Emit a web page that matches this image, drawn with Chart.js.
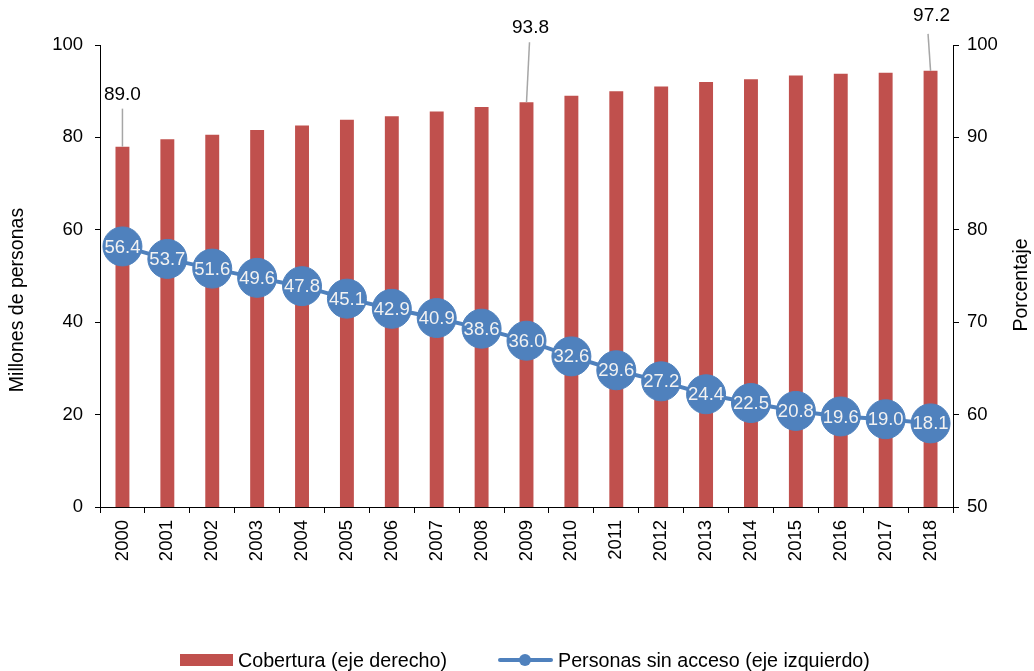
<!DOCTYPE html>
<html>
<head>
<meta charset="utf-8">
<script src="https://cdn.jsdelivr.net/npm/chart.js@4.4.1/dist/chart.umd.min.js"></script>
<style>
  body { margin: 0; background: #fff; font-family: "Liberation Sans", Arial, sans-serif; }
  #wrap { position: relative; width: 1034px; height: 671px; }
  #legend { position: absolute; left: 0; top: 649px; width: 1034px; font-size: 19.7px; color: #000; }
  .item { position: absolute; top: 0; display: flex; align-items: center; height: 22px; }
  .swatch-bar { width: 53px; height: 12px; background: #C0504D; margin-right: 5px; }
  .swatch-line { position: relative; width: 55px; height: 22px; margin-right: 5px; }
  .swatch-line:before { content: ''; position: absolute; left: 0; right: 0; top: 9px; height: 4px; background: #4F81BD; border-radius: 2px; }
  .swatch-line:after { content: ''; position: absolute; left: 21px; top: 5px; width: 12px; height: 12px; border-radius: 50%; background: #4F81BD; }
</style>
</head>
<body>
<div id="wrap">
  <canvas id="chart" width="1034" height="671"></canvas>
  <div id="legend">
    <div class="item" style="left:180px"><span class="swatch-bar"></span>Cobertura (eje derecho)</div>
    <div class="item" style="left:498px"><span class="swatch-line"></span>Personas sin acceso (eje izquierdo)</div>
  </div>
</div>
<script>
const years = ['2000', '2001', '2002', '2003', '2004', '2005', '2006', '2007', '2008', '2009',
               '2010', '2011', '2012', '2013', '2014', '2015', '2016', '2017', '2018'];
// Cobertura (%), right axis
const cobertura = [89.0, 89.8, 90.3, 90.8, 91.3, 91.9, 92.3, 92.8, 93.3, 93.8,
                   94.5, 95.0, 95.5, 96.0, 96.3, 96.7, 96.9, 97.0, 97.2];
// Personas sin acceso (millones), left axis
const sinAcceso = [56.4, 53.7, 51.6, 49.6, 47.8, 45.1, 42.9, 40.9, 38.6, 36.0,
                   32.6, 29.6, 27.2, 24.4, 22.5, 20.8, 19.6, 19.0, 18.1];
// bars that get a callout label
const calloutIdx = [0, 9, 18];
const leftTicks = [0, 20, 40, 60, 80, 100];
const rightTicks = [50, 60, 70, 80, 90, 100];

const FONT = '"Liberation Sans", Arial, sans-serif';

function verticalText(ctx, text, x, y) {
  ctx.save();
  ctx.translate(x, y);
  ctx.rotate(-Math.PI / 2);
  ctx.fillStyle = '#000';
  ctx.font = '19.5px ' + FONT;
  ctx.textAlign = 'center';
  ctx.textBaseline = 'middle';
  ctx.fillText(text, 0, 0);
  ctx.restore();
}

// white numbers inside the circles, grey leader callouts over some bars,
// and both axis titles (both read bottom to top)
const labelPlugin = {
  id: 'labels',
  afterDatasetsDraw(chart) {
    const ctx = chart.ctx;
    ctx.save();
    // callouts: [line dx, line dy, text dx, text dy]
    const barMeta = chart.getDatasetMeta(0);
    const offs = { 0: [0, -38, 0, -52], 9: [3, -60, 4, -75], 18: [-2.5, -37, 1, -55] };
    calloutIdx.forEach(i => {
      const el = barMeta.data[i];
      const o = offs[i];
      ctx.strokeStyle = '#a6a6a6';
      ctx.lineWidth = 1.5;
      ctx.beginPath();
      ctx.moveTo(el.x, el.y);
      ctx.lineTo(el.x + o[0], el.y + o[1]);
      ctx.stroke();
      ctx.fillStyle = '#000';
      ctx.font = '19px ' + FONT;
      ctx.textAlign = 'center';
      ctx.textBaseline = 'middle';
      ctx.fillText(cobertura[i].toFixed(1), el.x + o[2], el.y + o[3]);
    });
    // point labels
    const lineMeta = chart.getDatasetMeta(1);
    ctx.fillStyle = '#f2f2f2';
    ctx.font = '18.5px ' + FONT;
    ctx.textAlign = 'center';
    ctx.textBaseline = 'middle';
    lineMeta.data.forEach((pt, i) => {
      ctx.fillText(sinAcceso[i].toFixed(1), pt.x, pt.y + 1);
    });
    ctx.restore();
    verticalText(ctx, 'Millones de personas', 18, 300);
    verticalText(ctx, 'Porcentaje', 1022, 285);
  }
};

const ctx = document.getElementById('chart').getContext('2d');
const chart = new Chart(ctx, {
  type: 'bar',
  data: {
    labels: years,
    datasets: [{
      type: 'bar',
      label: 'Cobertura (eje derecho)',
      data: cobertura,
      yAxisID: 'y1',
      backgroundColor: '#C0504D',
      barPercentage: 0.31,
      categoryPercentage: 1,
      order: 2
    }, {
      type: 'line',
      label: 'Personas sin acceso (eje izquierdo)',
      data: sinAcceso,
      yAxisID: 'y',
      borderColor: '#4F81BD',
      borderWidth: 4,
      backgroundColor: '#4F81BD',
      pointBackgroundColor: '#4F81BD',
      pointBorderColor: '#4F81BD',
      pointRadius: 19.5,
      pointBorderWidth: 1,
      tension: 0,
      order: 1
    }]
  },
  options: {
    responsive: false,
    animation: false,
    layout: { padding: { top: 45, left: 0, right: 0, bottom: 0 } },
    plugins: {
      legend: { display: false },
      tooltip: { enabled: false }
    },
    scales: {
      x: {
        grid: { drawOnChartArea: false, color: '#000', tickLength: 6, tickColor: '#000' },
        border: { color: '#000', width: 1 },
        ticks: {
          color: '#000', font: { family: FONT, size: 18.5 },
          maxRotation: 90, minRotation: 90, padding: 7
        },
        afterFit: s => { s.height = 164; }
      },
      y: {
        position: 'left',
        min: 0, max: 100,
        afterBuildTicks: s => { s.ticks = leftTicks.map(v => ({ value: v })); },
        grid: { drawOnChartArea: false, color: '#000', tickLength: 5 },
        border: { color: '#000', width: 1 },
        ticks: { color: '#000', font: { family: FONT, size: 18.5 }, padding: 12 },
        afterFit: s => { s.width = 100; }
      },
      y1: {
        position: 'right',
        min: 50, max: 100,
        afterBuildTicks: s => { s.ticks = rightTicks.map(v => ({ value: v })); },
        grid: { drawOnChartArea: false, color: '#000', tickLength: 6 },
        border: { color: '#000', width: 1 },
        ticks: { color: '#000', font: { family: FONT, size: 18.5 }, padding: 8 },
        afterFit: s => { s.width = 81; }
      }
    }
  },
  plugins: [labelPlugin]
});
</script>
</body>
</html>
